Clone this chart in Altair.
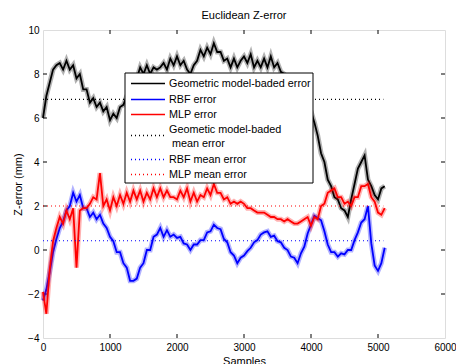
import altair as alt
import pandas as pd

samples = list(range(0, 5101, 50))

geo_err = [
    6.0, 7.0, 7.6, 8.2, 8.4, 8.5, 8.2, 8.6, 8.2, 8.4,
    7.8, 8.0, 7.3, 7.3, 6.7, 6.9, 6.5, 6.7, 6.3, 6.5,
    5.9, 6.2, 6.0, 6.5, 6.6, 7.0, 7.2, 7.6, 7.8, 8.3,
    8.0, 8.4, 8.0, 8.3, 8.2, 8.3, 8.5, 8.2, 8.7, 8.4,
    8.8, 8.4, 8.6, 8.2, 8.0, 8.4, 8.6, 9.1, 8.8, 9.2,
    8.9, 9.4, 9.0, 9.0, 8.6, 8.7, 8.3, 8.7, 8.3, 8.6,
    8.8, 8.5, 8.9, 8.3, 8.6, 8.3, 8.7, 8.3, 8.8, 8.3,
    8.5, 8.1, 8.0, 7.8, 7.6, 7.4, 7.2, 7.0, 6.8, 6.5,
    6.3, 5.8, 5.2, 4.4, 4.0, 3.2, 2.9, 2.4, 2.3, 1.9,
    1.8, 1.5, 2.3, 3.0, 3.7, 4.0, 4.3, 3.2, 2.9, 2.5,
    2.3, 2.8, 2.9,
]
rbf_err = [
    -2.3, -1.8, -1.0, -0.1, 0.5, 1.0, 1.3, 1.8, 2.0, 2.6,
    2.2, 2.5, 1.9, 1.9, 1.5, 1.7, 1.4, 1.6, 1.2, 1.0,
    0.6, 0.4, -0.1, -0.1, -0.6, -0.8, -1.4, -1.4, -1.3, -0.8,
    -0.6, 0.0, 0.0, 0.6, 0.7, 1.0, 0.6, 0.9, 0.6, 0.7,
    0.55, 0.6, 0.3, 0.25, 0.0, 0.25, 0.25, 0.45, 0.45, 0.8,
    0.85, 1.15, 1.0, 0.95, 0.5, 0.35, -0.1, -0.25, -0.6, -0.35,
    -0.25, -0.05, 0.1, 0.35, 0.45, 0.7, 0.8, 0.85, 0.6, 0.65,
    0.4, 0.35, 0.1, 0.0, -0.3, -0.35, -0.6, -0.15, 0.15, 0.75,
    1.15, 1.55, 1.45, 1.35, 0.85, 0.25, -0.1, -0.1, -0.3, -0.15,
    -0.2, 0.0, 0.0, 0.45, 0.8, 1.25, 1.4, 2.0, 0.3, -0.7,
    -0.95, -0.6, 0.1,
]
mlp_err = [
    -1.9, -2.9, -0.9, 0.4, 1.0, 1.5, 1.2, 1.8, 1.4, 1.9,
    -0.8, 1.8, 1.9, 1.9, 2.1, 2.4, 2.3, 3.5, 2.0, 2.3,
    1.8, 2.4, 2.0, 2.5, 2.1, 2.6, 2.2, 2.7, 2.3, 2.7,
    2.2, 2.6, 2.3, 2.8, 2.4, 2.8, 2.4, 2.7, 2.4, 2.4,
    2.3, 2.7, 2.4, 2.8, 2.2, 2.6, 2.2, 2.5, 2.4, 2.8,
    2.5, 3.0, 2.6, 2.6, 2.3, 2.4, 2.1, 2.2, 2.1, 2.2,
    2.1, 1.9, 1.9, 1.8, 1.7, 1.7, 1.7, 1.6, 1.5, 1.5,
    1.4, 1.4, 1.3, 1.4, 1.3, 1.2, 1.2, 1.3, 1.4, 1.5,
    1.1, 1.5, 1.4, 2.0, 2.1, 2.6, 2.7, 2.8, 2.4, 2.4,
    2.1, 2.2, 2.0, 2.4, 2.4, 2.9, 2.9, 3.0, 2.4, 2.2,
    1.7, 1.6, 1.9,
]

mean_extent = [0, 5080]
geo_mean = 6.85
rbf_mean = 0.42
mlp_mean = 2.0

names = [
    "Geometric model-baded error",
    "RBF error",
    "MLP error",
    "Geometic model-baded",
    "RBF mean error",
    "MLP mean error",
]
colors = ["#000000", "#0000ff", "#ff0000", "#000000", "#0000ff", "#ff0000"]

rows = []
for name, vals in [(names[0], geo_err), (names[1], rbf_err), (names[2], mlp_err)]:
    for s, v in zip(samples, vals):
        rows.append({"s": s, "v": v, "series": name})
df = pd.DataFrame(rows)

mrows = []
for name, m in [(names[3], geo_mean), (names[4], rbf_mean), (names[5], mlp_mean)]:
    for s in mean_extent:
        mrows.append({"s": s, "v": m, "series": name})
mdf = pd.DataFrame(mrows)

W, H = 402, 308
FONT = "Liberation Sans"

# legend layout (pixels inside the plot area)
leg_box = {"x": 82, "x2": 270, "y": 43, "y2": 153}
leg_line_y = [53.5, 69.5, 84.5, 105.5, 129.5, 144.5]
leg_text_y = [53.5, 69.5, 84.5, 100.0, 129.5, 144.5]

xs = alt.X("s:Q", scale=alt.Scale(domain=[0, 6000], nice=False),
           axis=alt.Axis(values=[0, 1000, 2000, 3000, 4000, 5000, 6000], title="Samples", format="d",
                         grid=False, domain=False, ticks=False, labelPadding=4, titlePadding=3,
                         labelFlush=False, titleFontWeight="normal"))
ys = alt.Y("v:Q", scale=alt.Scale(domain=[-4, 10], nice=False),
           axis=alt.Axis(values=[-4, -2, 0, 2, 4, 6, 8, 10], title="Z-error (mm)", format="d",
                         grid=False, domain=False, ticks=False, labelPadding=4, titlePadding=4,
                         labelFlush=False, titleFontWeight="normal"))

layers = []
for i in range(3):
    sub = alt.Chart(df).transform_filter(alt.datum.series == names[i])
    layers.append(sub.mark_line(strokeWidth=5, opacity=0.3, color=colors[i]).encode(x=xs, y=ys))
    layers.append(sub.mark_line(strokeWidth=1.8, color=colors[i]).encode(x=xs, y=ys))
for i in range(3, 6):
    sub = alt.Chart(mdf).transform_filter(alt.datum.series == names[i])
    layers.append(sub.mark_line(strokeWidth=1.2, strokeDash=[1, 3], color=colors[i]).encode(x=xs, y=ys))

tick_x = pd.DataFrame({"t": [1000, 2000, 3000, 4000, 5000]})
tick_y = pd.DataFrame({"t": [-2, 0, 2, 4, 6, 8]})
sx = alt.Scale(domain=[0, 6000], nice=False)
sy = alt.Scale(domain=[-4, 10], nice=False)
tx_b = alt.Chart(tick_x).mark_rule(color="black").encode(x=alt.X("t:Q", scale=sx), y=alt.value(H), y2=alt.value(H - 4))
tx_t = alt.Chart(tick_x).mark_rule(color="black").encode(x=alt.X("t:Q", scale=sx), y=alt.value(0), y2=alt.value(4))
ty_l = alt.Chart(tick_y).mark_rule(color="black").encode(y=alt.Y("t:Q", scale=sy), x=alt.value(0), x2=alt.value(4))
ty_r = alt.Chart(tick_y).mark_rule(color="black").encode(y=alt.Y("t:Q", scale=sy), x=alt.value(W), x2=alt.value(W - 4))

box = alt.Chart(pd.DataFrame([leg_box])).mark_rect(fill="white", stroke="black", strokeWidth=1).encode(
    x=alt.X("x:Q", scale=None), x2="x2:Q", y=alt.Y("y:Q", scale=None), y2="y2:Q")

leg_layers = []
for i in range(6):
    kw = {"strokeDash": [1, 3], "strokeWidth": 1.5} if i >= 3 else {"strokeWidth": 1.4}
    leg_layers.append(alt.Chart(pd.DataFrame({"ly": [leg_line_y[i]]})).mark_rule(color=colors[i], **kw).encode(
        x=alt.value(88), x2=alt.value(122), y=alt.Y("ly:Q", scale=None)))
leg_text = pd.DataFrame({"label": names + ["mean error"], "ty": leg_text_y + [114.0],
                         "tx": [126, 126, 126, 126, 126, 126, 129]})
ltext = alt.Chart(leg_text).mark_text(align="left", baseline="middle", font=FONT, fontSize=10.8, color="black").encode(
    x=alt.X("tx:Q", scale=None), y=alt.Y("ty:Q", scale=None), text="label:N")

chart = alt.layer(tx_b, tx_t, ty_l, ty_r, *layers, box, *leg_layers, ltext).properties(
    width=W, height=H,
    title=alt.TitleParams("Euclidean Z-error", font=FONT, fontSize=11, fontWeight="normal",
                          color="black", offset=4),
    padding={"left": 43, "top": 30, "right": 11, "bottom": 26},
    autosize=alt.AutoSizeParams(type="none"),
).configure_view(stroke="black", strokeWidth=1).configure_axis(
    labelFont=FONT, labelFontSize=11, labelColor="black", titleFont=FONT, titleFontSize=11,
    titleColor="black"
).configure(background="white")

chart.save("out.html", embed_options={"renderer": "svg", "actions": False})
